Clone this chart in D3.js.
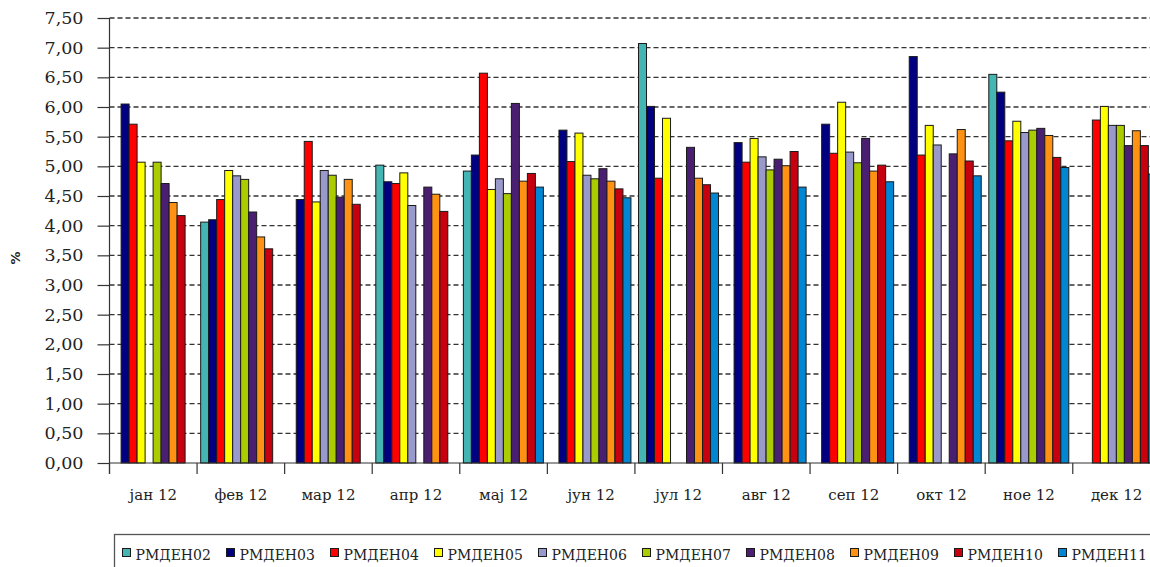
<!DOCTYPE html>
<html>
<head>
<meta charset="utf-8">
<script src="https://cdn.jsdelivr.net/npm/d3@7/dist/d3.min.js"></script>
<style>
  html, body { margin: 0; padding: 0; background: #fff; }
  svg { display: block; }
</style>
</head>
<body>
<svg id="chart" width="1150" height="567"></svg>
<script>
// Месеци
const months = ["јан 12", "фев 12", "мар 12", "апр 12", "мај 12", "јун 12",
                "јул 12", "авг 12", "сеп 12", "окт 12", "ное 12", "дек 12"];

// Серије (null = нема податка за тај месец)
const seriesNames = ["РМДЕН02", "РМДЕН03", "РМДЕН04", "РМДЕН05", "РМДЕН06",
                     "РМДЕН07", "РМДЕН08", "РМДЕН09", "РМДЕН10", "РМДЕН11"];

const rmden02 = [null, 4.06, null, 5.02, 4.92, null, 7.07, null, null, null, 6.55, null];
const rmden03 = [6.05, 4.10, 4.44, 4.74, 5.19, 5.61, 6.01, 5.40, 5.71, 6.85, 6.25, null];
const rmden04 = [5.71, 4.44, 5.42, 4.71, 6.57, 5.08, 4.80, 5.07, 5.22, 5.19, 5.43, 5.78];
const rmden05 = [5.07, 4.93, 4.40, 4.89, 4.61, 5.56, 5.81, 5.47, 6.08, 5.69, 5.76, 6.01];
const rmden06 = [null, 4.84, 4.93, 4.34, 4.79, 4.85, null, 5.16, 5.24, 5.36, 5.57, 5.69];
const rmden07 = [5.07, 4.78, 4.85, null, 4.54, 4.79, null, 4.94, 5.06, null, 5.61, 5.69];
const rmden08 = [4.71, 4.23, 4.48, 4.65, 6.06, 4.96, 5.32, 5.12, 5.47, 5.21, 5.64, 5.35];
const rmden09 = [4.39, 3.81, 4.78, 4.53, 4.75, 4.75, 4.80, 5.01, 4.92, 5.62, 5.52, 5.60];
const rmden10 = [4.17, 3.61, 4.36, 4.24, 4.88, 4.62, 4.69, 5.25, 5.02, 5.09, 5.15, 5.35];
const rmden11 = [null, null, null, null, 4.65, 4.47, 4.55, 4.65, 4.74, 4.84, 4.98, 4.87];

const seriesValues = [rmden02, rmden03, rmden04, rmden05, rmden06,
                      rmden07, rmden08, rmden09, rmden10, rmden11];

const seriesColors = ["#45b5b3", "#000080", "#ff0000", "#ffff00", "#9999cc",
                      "#aacc00", "#4a1f72", "#ff9212", "#c6000e", "#0086d2"];

const yTicks = [0, 0.5, 1, 1.5, 2, 2.5, 3, 3.5, 4, 4.5, 5, 5.5, 6, 6.5, 7, 7.5];

// Распоред
const svg = d3.select("#chart");
const plotLeft = 109.5, plotTop = 18, plotBottom = 463;
const catWidth = 87.57;

const x = d3.scaleBand()
  .domain(months)
  .range([plotLeft, plotLeft + catWidth * months.length])
  .padding(0);

const xs = d3.scaleBand()
  .domain(seriesNames)
  .range([3.6, 83.6])
  .padding(0);

const y = d3.scaleLinear().domain([0, 7.5]).range([plotBottom, plotTop]);
const color = d3.scaleOrdinal().domain(seriesNames).range(seriesColors);

svg.append("rect").attr("width", 1150).attr("height", 567).attr("fill", "#fff");

// Хоризонталне мрежне линије
svg.append("g")
  .selectAll("line")
  .data(yTicks.filter(d => d > 0))
  .join("line")
  .attr("x1", plotLeft)
  .attr("x2", 1150)
  .attr("y1", d => y(d))
  .attr("y2", d => y(d))
  .attr("stroke", "#333")
  .attr("stroke-width", 1.4)
  .attr("stroke-dasharray", "5,3");

// Стубови
const barData = [];
seriesNames.forEach((s, si) => {
  seriesValues[si].forEach((v, mi) => {
    if (v != null) barData.push({ series: s, month: months[mi], value: v });
  });
});

svg.append("g")
  .selectAll("rect")
  .data(barData)
  .join("rect")
  .attr("x", d => x(d.month) + xs(d.series))
  .attr("y", d => y(d.value))
  .attr("width", xs.bandwidth())
  .attr("height", d => y(0) - y(d.value))
  .attr("fill", d => color(d.series))
  .attr("stroke", "#1a1a1a")
  .attr("stroke-width", 1);

// Y оса
const yAxis = d3.axisLeft(y)
  .tickValues(yTicks)
  .tickSize(12)
  .tickPadding(14)
  .tickFormat(d => d.toFixed(2).replace(".", ","));

const gy = svg.append("g")
  .attr("transform", `translate(${plotLeft},0)`)
  .call(yAxis);
gy.select(".domain").remove();
gy.selectAll(".tick line").attr("stroke", "#333").attr("stroke-width", 1.2);
gy.selectAll(".tick text")
  .attr("font-family", "'DejaVu Serif', serif")
  .attr("font-size", 17.5)
  .attr("fill", "#222");

svg.append("line")
  .attr("x1", plotLeft).attr("x2", plotLeft)
  .attr("y1", plotTop).attr("y2", plotBottom + 11)
  .attr("stroke", "#333").attr("stroke-width", 1.2);

// X оса
svg.append("line")
  .attr("x1", plotLeft).attr("x2", 1150)
  .attr("y1", plotBottom).attr("y2", plotBottom)
  .attr("stroke", "#333").attr("stroke-width", 1.2);

svg.append("g")
  .selectAll("line")
  .data(months)
  .join("line")
  .attr("x1", d => x(d)).attr("x2", d => x(d))
  .attr("y1", plotBottom).attr("y2", plotBottom + 11)
  .attr("stroke", "#333").attr("stroke-width", 1.2);

const xAxis = d3.axisBottom(x).tickSize(0).tickPadding(0);
const gx = svg.append("g")
  .attr("transform", `translate(0,${plotBottom})`)
  .call(xAxis);
gx.select(".domain").remove();
gx.selectAll(".tick text")
  .attr("dy", null)
  .attr("y", 37)
  .attr("font-family", "'DejaVu Serif', serif")
  .attr("font-size", 15)
  .attr("fill", "#222");

// Ознака Y осе
svg.append("text")
  .attr("transform", "translate(20,258) rotate(-90)")
  .attr("text-anchor", "middle")
  .attr("font-family", "'DejaVu Sans', sans-serif")
  .attr("font-size", 13)
  .attr("font-weight", "bold")
  .attr("fill", "#222")
  .text("%");

// Легенда
const legend = svg.append("g");
legend.append("rect")
  .attr("x", 114.5).attr("y", 534.5)
  .attr("width", 1100).attr("height", 60)
  .attr("fill", "#fff")
  .attr("stroke", "#555")
  .attr("stroke-width", 1.3);

const legendX = d3.scalePoint()
  .domain(seriesNames)
  .range([122.5, 122.5 + 104 * (seriesNames.length - 1)]);

const items = legend.selectAll("g.item")
  .data(seriesNames)
  .join("g")
  .attr("class", "item")
  .attr("transform", d => `translate(${legendX(d)},548.5)`);

items.append("rect")
  .attr("width", 8).attr("height", 8)
  .attr("fill", d => color(d))
  .attr("stroke", "#1a1a1a")
  .attr("stroke-width", 1);

items.append("text")
  .attr("x", 13)
  .attr("y", 11)
  .attr("font-family", "'DejaVu Serif', serif")
  .attr("font-size", 14)
  .attr("fill", "#222")
  .text(d => d);
</script>
</body>
</html>
